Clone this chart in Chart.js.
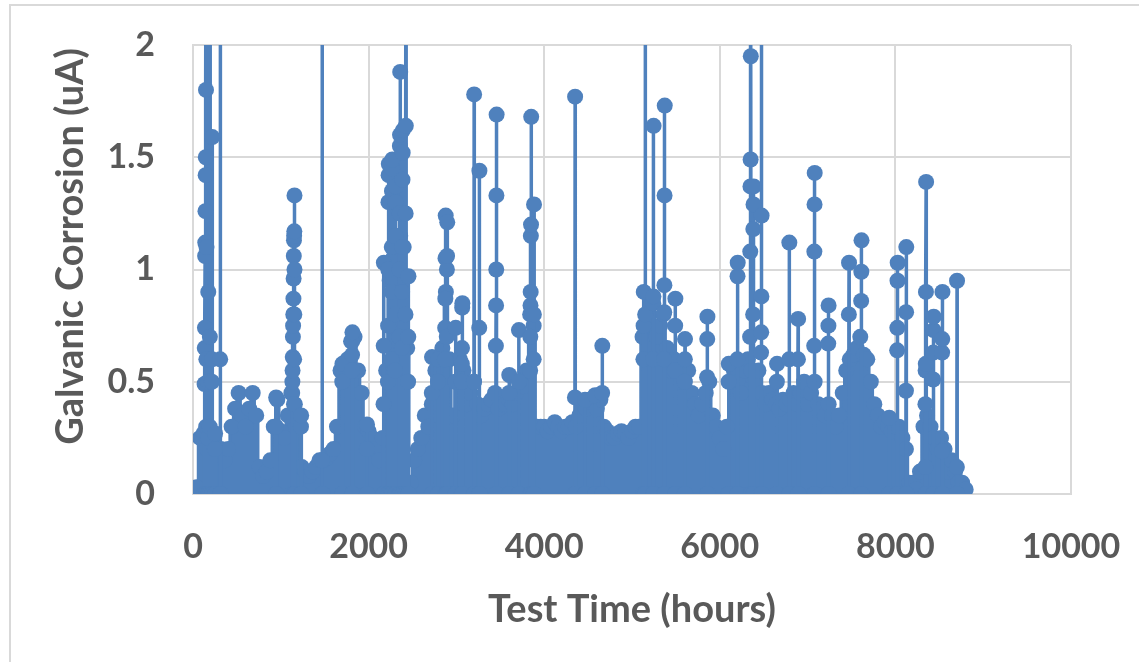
<!DOCTYPE html>
<html>
<head>
<meta charset="utf-8">
<script src="https://cdn.jsdelivr.net/npm/chart.js@4/dist/chart.umd.min.js"></script>
<style>
  html, body { margin: 0; padding: 0; background: #fff; }
  #wrap { width: 1139px; height: 662px; position: relative; }
</style>
</head>
<body>
<div id="wrap"><canvas id="corrosionChart" width="1139" height="662"></canvas></div>
<script>
// galvanic current log, readings in uA

// top of the background noise, one reading every 40 h from 0 to 8800 h
var bandStep = 40
var bandTops = [
  0.02, 0.03, 0.25, 0.27, 0.20, 0.25, 0.22, 0.18, 0.20, 0.15,
  0.20, 0.30, 0.38, 0.45, 0.35, 0.30, 0.38, 0.45, 0.35, 0.12,
  0.08, 0.10, 0.15, 0.30, 0.42, 0.28, 0.25, 0.35, 0.45, 0.40,
  0.35, 0.12, 0.10, 0.08, 0.10, 0.12, 0.15, 0.15, 0.16, 0.18,
  0.20, 0.30, 0.55, 0.58, 0.60, 0.68, 0.70, 0.55, 0.45, 0.30,
  0.28, 0.25, 0.20, 0.15, 0.25, 0.55, 0.95, 1.05, 1.00, 1.15,
  1.10, 0.65, 0.05, 0.15, 0.20, 0.25, 0.35, 0.30, 0.40, 0.55,
  0.60, 0.65, 0.90, 0.60, 0.35, 0.50, 0.60, 0.55, 0.40, 0.45,
  0.50, 0.40, 0.35, 0.38, 0.40, 0.42, 0.45, 0.38, 0.40, 0.40,
  0.42, 0.40, 0.45, 0.50, 0.48, 0.55, 0.80, 0.75, 0.30, 0.30,
  0.30, 0.28, 0.30, 0.32, 0.30, 0.28, 0.30, 0.30, 0.32, 0.30,
  0.35, 0.40, 0.38, 0.42, 0.40, 0.38, 0.42, 0.30, 0.28, 0.25,
  0.25, 0.27, 0.28, 0.27, 0.25, 0.28, 0.30, 0.30, 0.70, 0.75,
  0.80, 0.75, 0.70, 0.75, 0.80, 0.65, 0.55, 0.60, 0.55, 0.50,
  0.50, 0.55, 0.45, 0.40, 0.35, 0.40, 0.45, 0.50, 0.35, 0.30,
  0.25, 0.20, 0.30, 0.50, 0.55, 0.50, 0.45, 0.55, 0.60, 0.55,
  0.50, 0.55, 0.45, 0.40, 0.45, 0.42, 0.40, 0.38, 0.42, 0.40,
  0.42, 0.45, 0.40, 0.45, 0.50, 0.40, 0.45, 0.50, 0.40, 0.38,
  0.35, 0.40, 0.35, 0.30, 0.35, 0.45, 0.55, 0.60, 0.62, 0.65,
  0.70, 0.62, 0.60, 0.50, 0.40, 0.35, 0.30, 0.32, 0.30, 0.28,
  0.30, 0.30, 0.25, 0.20, 0.05, 0.05, 0.02, 0.10, 0.30, 0.35,
  0.30, 0.25, 0.20, 0.25, 0.20, 0.10, 0.15, 0.10, 0.05, 0.05,
  0.02
]

// corrosion events: hour of the event and the readings logged during it
var spikeHours = [
  130, 150, 170, 190, 215, 250, 310, 945, 1130, 1150, 1230, 1470, 1700, 1810, 1980,
  2170, 2220, 2260, 2300, 2350, 2380, 2420, 2450, 2720, 2790, 2870, 2890, 2990, 3060,
  3200, 3260, 3450, 3600, 3710, 3840, 3880, 4350, 4465, 4580, 4660,
  5130, 5150, 5240, 5365, 5490, 5600, 5855, 6100, 6200, 6345, 6380, 6470, 6650,
  6790, 6890, 7075, 7235, 7470, 7610, 7930, 8020, 8120, 8340, 8430, 8530, 8700
]
var spikeReadings = [
  [0.27, 0.49, 0.65, 0.74, 1.06, 1.12, 1.26, 1.42, 1.5, 1.8, 3],
  [0.3, 0.6, 1.1, 3],
  [0.25, 0.5, 0.9, 3],
  [0.3, 0.7, 3],
  [0.5, 0.6, 1.59],
  [0.2, 0.27],
  [0.6, 3],
  [0.3, 0.43],
  [0.45, 0.5, 0.55, 0.61, 0.7, 0.75, 0.8, 0.87, 0.96, 1.06, 1.13, 1.15, 1.17, 1.33],
  [0.4, 0.6, 0.8, 1.0],
  [0.3, 0.35],
  [0.15, 3],
  [0.5, 0.58],
  [0.55, 0.62, 0.68, 0.72],
  [0.2, 0.31],
  [0.4, 0.66, 1.03],
  [0.5, 0.75, 1.0, 1.3, 1.42, 1.47],
  [0.6, 0.9, 1.1, 1.35, 1.45, 1.49],
  [0.55, 0.8, 1.15, 1.3, 1.37],
  [0.7, 1.0, 1.25, 1.55, 1.6, 1.88],
  [0.65, 0.9, 1.1, 1.4, 1.52, 1.62],
  [0.8, 1.25, 1.64, 3],
  [0.5, 0.7, 0.97],
  [0.45, 0.61],
  [0.5, 0.6],
  [0.6, 0.74, 0.87, 1.05, 1.24],
  [0.7, 1.0, 1.06, 1.21],
  [0.5, 0.74],
  [0.5, 0.58, 0.65, 0.83, 0.85],
  [0.5, 1.78],
  [0.74, 1.44],
  [0.66, 0.84, 1.0, 1.33, 1.69],
  [0.45, 0.53],
  [0.5, 0.73],
  [0.55, 0.7, 0.84, 0.9, 1.15, 1.2, 1.68],
  [0.6, 0.8, 1.29],
  [0.43, 1.77],
  [0.42],
  [0.44],
  [0.45, 0.66],
  [0.6, 0.75, 0.9],
  [0.8, 3],
  [0.6, 0.85, 0.88, 1.64],
  [0.6, 0.81, 0.93, 1.33, 1.73],
  [0.55, 0.75, 0.87],
  [0.5, 0.6, 0.69],
  [0.52, 0.69, 0.79],
  [0.5, 0.58],
  [0.6, 0.97, 1.03],
  [0.7, 1.08, 1.37, 1.49, 1.95, 3],
  [0.8, 1.18, 1.29, 1.37],
  [0.63, 0.72, 0.88, 1.24, 3],
  [0.5, 0.58],
  [0.6, 1.12],
  [0.6, 0.78],
  [0.66, 1.08, 1.29, 1.43],
  [0.67, 0.75, 0.84],
  [0.8, 1.03],
  [0.86, 0.99, 1.13],
  [0.34],
  [0.64, 0.74, 0.95, 1.03],
  [0.46, 0.81, 1.1],
  [0.12, 0.4, 0.55, 0.58, 0.9, 1.39],
  [0.51, 0.63, 0.73, 0.79],
  [0.19, 0.63, 0.69, 0.9],
  [0.12, 0.95]
]

var blue = '#4f81bd'
var textGrey = '#595959'
var gridGrey = '#d9d9d9'

// MARK: build the two traces
var bandPoints = bandTops.map(function (v, i) {
  return { x: i * bandStep, y: v }
})

// each event rises from zero, logs its readings and falls back
var spikePoints = []
spikeHours.forEach(function (h, i) {
  spikePoints.push({ x: h, y: 0 })
  spikeReadings[i].forEach(function (v, k) {
    spikePoints.push({ x: h + k * 2, y: v })
  })
  spikePoints.push({ x: h + spikeReadings[i].length * 2, y: 0 })
})

// light frame round the whole chart
var framePlugin = {
  id: 'frame',
  beforeDraw: function (chart) {
    var c = chart.ctx
    c.save()
    c.strokeStyle = gridGrey
    c.lineWidth = 2
    c.beginPath()
    c.moveTo(10, 662)
    c.lineTo(10, 5)
    c.lineTo(1139, 5)
    c.stroke()
    c.restore()
  }
}

var tickFont = { family: 'Lato', size: 34, weight: 'bold' }
var titleFont = { family: 'Lato', size: 38, weight: 'bold' }

var ctx = document.getElementById('corrosionChart')
var myChart = new Chart(ctx, {
  type: 'line',
  data: {
    datasets: [{
      data: spikePoints,
      borderColor: blue,
      backgroundColor: blue,
      borderWidth: 3.5,
      pointRadius: 8,
      pointBorderWidth: 0,
      pointBackgroundColor: blue,
      tension: 0
    }, {
      data: bandPoints,
      borderColor: blue,
      backgroundColor: blue,
      borderWidth: 3,
      pointRadius: 8,
      pointBorderWidth: 0,
      pointBackgroundColor: blue,
      stepped: 'middle',
      fill: 'origin'
    }]
  },
  plugins: [framePlugin],
  options: {
    responsive: false,
    animation: false,
    events: [],
    layout: { padding: { left: 0, right: 68, top: 45, bottom: 0 } },
    plugins: { legend: { display: false }, tooltip: { enabled: false } },
    scales: {
      x: {
        type: 'linear',
        min: 0,
        max: 10000,
        ticks: {
          stepSize: 2000,
          padding: 33,
          color: textGrey,
          font: tickFont,
          maxRotation: 0,
          callback: function (v) { return String(v) }
        },
        grid: { color: gridGrey, lineWidth: 2, drawTicks: false },
        border: { color: gridGrey, width: 2 },
        title: {
          display: true,
          text: 'Test Time (hours)',
          color: textGrey,
          font: titleFont,
          padding: { top: 0, bottom: 29 }
        },
        afterFit: function (scale) {
          scale.height = 168
          scale.paddingLeft = 0
          scale.paddingRight = 0
        }
      },
      y: {
        min: 0,
        max: 2,
        ticks: {
          stepSize: 0.5,
          padding: 38,
          color: textGrey,
          font: tickFont,
          callback: function (v) { return String(v) }
        },
        grid: { color: gridGrey, lineWidth: 2, drawTicks: false },
        border: { color: gridGrey, width: 2 },
        title: {
          display: true,
          text: '     Galvanic Corrosion (uA)',
          color: textGrey,
          font: titleFont,
          padding: { top: 48, bottom: 0 }
        },
        afterFit: function (scale) {
          scale.width = 193
          scale.paddingTop = 0
          scale.paddingBottom = 0
        }
      }
    }
  }
})
</script>
</body>
</html>
